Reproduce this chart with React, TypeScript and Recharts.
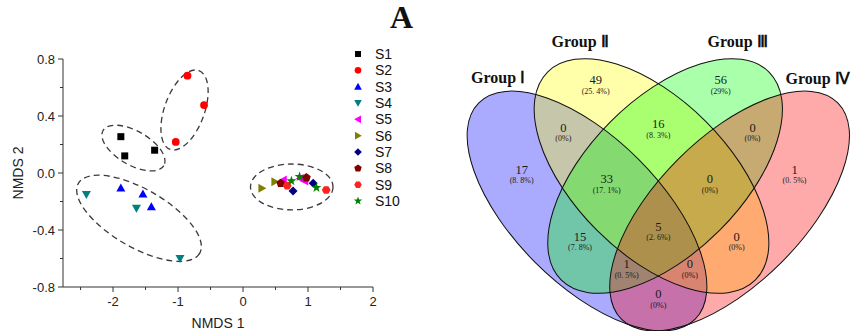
import React from "react";
import { Legend, ReferenceArea, Scatter, ScatterChart, XAxis, YAxis } from "recharts";

const SANS = "'Liberation Sans', Arial, Helvetica, sans-serif";
const SERIF = "'Liberation Serif', 'Times New Roman', serif";

// NMDS scores per sample, [NMDS 1, NMDS 2]
const S1 = [[-1.88, 0.255], [-1.82, 0.12], [-1.36, 0.16]];
const S2 = [[-0.855, 0.683], [-0.6, 0.477], [-1.035, 0.218]];
const S3 = [[-1.88, -0.105], [-1.54, -0.147], [-1.41, -0.236]];
const S4 = [[-2.41, -0.15], [-1.64, -0.248], [-0.97, -0.6]];
const S5 = [[0.62, -0.049], [0.95, -0.056], [0.88, -0.038]];
const S6 = [[0.29, -0.107], [0.49, -0.061]];
const S7 = [[0.77, -0.126], [1.08, -0.072]];
const S8 = [[0.58, -0.072], [0.975, -0.033]];
const S9 = [[0.68, -0.089], [1.28, -0.119]];
const S10 = [[0.745, -0.056], [0.87, -0.026], [1.13, -0.103]];

const SAMPLE_NAMES = ["S1", "S2", "S3", "S4", "S5", "S6", "S7", "S8", "S9", "S10"];
const SAMPLE_POINTS = [S1, S2, S3, S4, S5, S6, S7, S8, S9, S10];
const SAMPLE_COLORS = ["#000000", "#ff0000", "#0000ff", "#008080", "#ff00ff", "#808000", "#000080", "#800000", "#ff2020", "#008000"];
const SAMPLE_MARKERS = ["square", "circle", "up", "down", "left", "right", "diamond", "pentagon", "hexagon", "star"];

const X_TICKS = [-2.5, -2, -1.5, -1, -0.5, 0, 0.5, 1, 1.5, 2];
const Y_TICKS = [-0.8, -0.6, -0.4, -0.2, 0, 0.2, 0.4, 0.6, 0.8];

// dashed group outlines: centre, half axes (NMDS units), tilt in degrees
const RING_X = [-1.686, -0.9, -1.6, 0.75];
const RING_Y = [0.175, 0.442, -0.318, -0.098];
const RING_RX = [0.54, 0.646, 1.077, 0.635];
const RING_RY = [0.119, 0.14, 0.204, 0.161];
const RING_TILT = [30, -70, 30, 0];

// Venn diagram
const GROUPS = ["Group Ⅰ", "Group Ⅱ", "Group Ⅲ", "Group Ⅳ"];
const GROUP_FILLS = ["#0000ff", "#ffff00", "#00ff00", "#ff0000"];
const REGIONS = ["I", "II", "III", "IV", "I∩II", "II∩III", "III∩IV", "I∩II∩III", "II∩III∩IV", "I∩III", "II∩IV", "I∩III∩IV", "I∩II∩IV", "I∩II∩III∩IV", "I∩IV"];
const REGION_COUNTS = [17, 49, 56, 1, 0, 16, 0, 33, 0, 15, 0, 1, 0, 5, 0];

// layout of the Venn panel (panel units = px)
const SET_CX = [157, 221.5, 235.1, 299.6];
const SET_CY = [211, 176, 176, 211];
const SET_A = [153, 147, 147, 153];
const SET_B = [73, 77, 77, 73];
const SET_TILT = [45, 45, -45, -45];
const GROUP_POS = [[68, 77], [150, 41.7], [307.5, 41.7], [387.5, 78.3]];
const REGION_POS = [
  [91.7, 169.5], [165.7, 80], [290.7, 80], [364.5, 169.5],
  [133.3, 127.7], [228.3, 124], [322.5, 127.7],
  [176.7, 179.3], [279.8, 179.3],
  [150, 236.7], [306.7, 236.7],
  [196.7, 264], [259.8, 264],
  [228.3, 226.7], [228.3, 294],
];

const total = REGION_COUNTS.reduce((s, v) => s + v, 0);
const pctLabel = (n: number) => {
  const p = Math.round((n / total) * 1000) / 10;
  const s = Number.isInteger(p) ? String(p) : p.toFixed(1).replace(".", ". ");
  return `(${s}%)`;
};

const regionData = REGIONS.map((name, i) => ({
  name,
  x: REGION_POS[i][0],
  y: REGION_POS[i][1],
  count: REGION_COUNTS[i],
  pct: pctLabel(REGION_COUNTS[i]),
}));
const groupData = GROUPS.map((name, i) => ({ name, x: GROUP_POS[i][0], y: GROUP_POS[i][1] }));

function polyPoints(cx: number, cy: number, n: number, r: number, start: number) {
  const pts: string[] = [];
  for (let i = 0; i < n; i++) {
    const a = start + (i * 2 * Math.PI) / n;
    pts.push(`${cx + r * Math.cos(a)},${cy + r * Math.sin(a)}`);
  }
  return pts.join(" ");
}

function starPoints(cx: number, cy: number, ro: number, ri: number) {
  const pts: string[] = [];
  for (let i = 0; i < 10; i++) {
    const r = i % 2 === 0 ? ro : ri;
    const a = -Math.PI / 2 + (i * Math.PI) / 5;
    pts.push(`${cx + r * Math.cos(a)},${cy + r * Math.sin(a)}`);
  }
  return pts.join(" ");
}

function Marker({ kind, cx, cy, color, k = 1 }: { kind: string; cx: number; cy: number; color: string; k?: number }) {
  const s = 4.5 * k;
  switch (kind) {
    case "square":
      return <rect x={cx - 3.5 * k} y={cy - 3.5 * k} width={7 * k} height={7 * k} fill={color} />;
    case "circle":
      return <circle cx={cx} cy={cy} r={3.9 * k} fill={color} />;
    case "up":
      return <polygon points={`${cx},${cy - s} ${cx + s},${cy + 3.5 * k} ${cx - s},${cy + 3.5 * k}`} fill={color} />;
    case "down":
      return <polygon points={`${cx},${cy + s} ${cx + s},${cy - 3.5 * k} ${cx - s},${cy - 3.5 * k}`} fill={color} />;
    case "left":
      return <polygon points={`${cx - s},${cy} ${cx + 3.5 * k},${cy - s} ${cx + 3.5 * k},${cy + s}`} fill={color} />;
    case "right":
      return <polygon points={`${cx + s},${cy} ${cx - 3.5 * k},${cy - s} ${cx - 3.5 * k},${cy + s}`} fill={color} />;
    case "diamond":
      return <polygon points={`${cx},${cy - s} ${cx + s},${cy} ${cx},${cy + s} ${cx - s},${cy}`} fill={color} />;
    case "pentagon":
      return <polygon points={polyPoints(cx, cy, 5, 4.6 * k, -Math.PI / 2)} fill={color} />;
    case "hexagon":
      return <polygon points={polyPoints(cx, cy, 6, 4.4 * k, 0)} fill={color} />;
    default:
      return <polygon points={starPoints(cx, cy, 5.2 * k, 2.1 * k)} fill={color} />;
  }
}

const XTick = (props: any) => {
  const { x, y, payload } = props;
  const v = payload.value;
  const major = Number.isInteger(v);
  return (
    <g>
      <line x1={x} y1={y} x2={x} y2={y + (major ? 5 : 3)} stroke="#333" />
      {major && (
        <text x={x} y={y + 18.5} textAnchor="middle" fontSize={13} fontFamily={SANS} fill="#222">
          {String(v)}
        </text>
      )}
    </g>
  );
};

const YTick = (props: any) => {
  const { x, y, payload } = props;
  const v = payload.value;
  const major = Math.round(v * 10) % 4 === 0;
  return (
    <g>
      <line x1={x - (major ? 5 : 3)} y1={y} x2={x} y2={y} stroke="#333" />
      {major && (
        <text x={x - 8} y={y + 4.5} textAnchor="end" fontSize={13} fontFamily={SANS} fill="#222">
          {v.toFixed(1)}
        </text>
      )}
    </g>
  );
};

const ringShape = (tilt: number, style: any) => (p: any) => {
  const w = Math.abs(p.width);
  const h = Math.abs(p.height);
  const cx = Math.min(p.x, p.x + p.width) + w / 2;
  const cy = Math.min(p.y, p.y + p.height) + h / 2;
  return <ellipse cx={cx} cy={cy} rx={w / 2} ry={h / 2} transform={`rotate(${tilt} ${cx} ${cy})`} {...style} />;
};

const SampleLegend = () => (
  <svg width={60} height={170}>
    {SAMPLE_NAMES.map((name, i) => {
      const cy = 9 + i * 16.33;
      return (
        <g key={name}>
          <Marker kind={SAMPLE_MARKERS[i]} cx={8} cy={cy} color={SAMPLE_COLORS[i]} k={0.85} />
          <text x={25} y={cy + 5} fontSize={14} fontFamily={SANS} fill="#111">
            {name}
          </text>
        </g>
      );
    })}
  </svg>
);

const RegionLabel = (props: any) => {
  const { cx, cy, payload } = props;
  return (
    <g>
      <text x={cx} y={cy + 4} textAnchor="middle" fontSize={12.5} fontFamily={SERIF} fill="#1a1a1a">
        {payload.count}
      </text>
      <text x={cx} y={cy + 13.5} textAnchor="middle" fontSize={8} fontFamily={SERIF} fill="#1a1a1a">
        {payload.pct}
      </text>
    </g>
  );
};

const GroupTitle = (props: any) => {
  const { cx, cy, payload } = props;
  return (
    <text x={cx} y={cy + 5.5} textAnchor="middle" fontSize={16} fontWeight="bold" fontFamily={SERIF} fill="#111">
      {payload.name}
    </text>
  );
};

export default function App() {
  return (
    <div style={{ position: "absolute", left: 0, top: 0, width: 851, height: 331, background: "#fff", overflow: "hidden" }}>
      <div style={{ position: "absolute", left: 0, top: 0 }}>
        <ScatterChart width={420} height={331} margin={{ top: 59, right: 47, bottom: 0, left: 0 }}>
          <XAxis
            type="number"
            dataKey="x"
            domain={[-2.77, 2]}
            ticks={X_TICKS}
            interval={0}
            tick={<XTick />}
            tickLine={false}
            tickSize={0}
            tickMargin={0}
            axisLine={{ stroke: "#333" }}
            height={44}
            allowDataOverflow
            label={{
              content: ({ viewBox }: any) => (
                <text x={viewBox.x + viewBox.width / 2} y={viewBox.y + 41} textAnchor="middle" fontSize={14} fontFamily={SANS} fill="#222">
                  NMDS 1
                </text>
              ),
            }}
          />
          <YAxis
            type="number"
            dataKey="y"
            domain={[-0.8, 0.8]}
            ticks={Y_TICKS}
            interval={0}
            tick={<YTick />}
            tickLine={false}
            tickSize={0}
            tickMargin={0}
            axisLine={{ stroke: "#333" }}
            width={63}
            allowDataOverflow
            label={{
              content: ({ viewBox }: any) => {
                const cx = viewBox.x + 18;
                const cy = viewBox.y + viewBox.height / 2;
                return (
                  <text x={cx} y={cy} transform={`rotate(-90 ${cx} ${cy})`} textAnchor="middle" dominantBaseline="central" fontSize={14} fontFamily={SANS} fill="#222">
                    NMDS 2
                  </text>
                );
              },
            }}
          />
          {RING_X.map((cx, i) => (
            <ReferenceArea
              key={`ring-${i}`}
              x1={cx - RING_RX[i]}
              x2={cx + RING_RX[i]}
              y1={RING_Y[i] - RING_RY[i]}
              y2={RING_Y[i] + RING_RY[i]}
              ifOverflow="visible"
              shape={ringShape(RING_TILT[i], { fill: "none", stroke: "#3a3a3a", strokeWidth: 1.3, strokeDasharray: "6 4" })}
            />
          ))}
          {SAMPLE_NAMES.map((name, i) => (
            <Scatter
              key={name}
              name={name}
              data={SAMPLE_POINTS[i].map(([x, y]) => ({ x, y }))}
              fill={SAMPLE_COLORS[i]}
              isAnimationActive={false}
              shape={(p: any) => <Marker kind={SAMPLE_MARKERS[i]} cx={p.cx} cy={p.cy} color={SAMPLE_COLORS[i]} />}
            />
          ))}
          <Legend
            layout="vertical"
            align="center"
            verticalAlign="middle"
            wrapperStyle={{ position: "absolute", left: 350, top: 45, width: 60, height: 170 }}
            content={() => <SampleLegend />}
          />
        </ScatterChart>
      </div>

      <div
        style={{
          position: "absolute",
          left: 390,
          top: 1,
          fontFamily: SERIF,
          fontWeight: "bold",
          fontSize: 32,
          lineHeight: "32px",
          color: "#111",
        }}
      >
        A
      </div>

      <div style={{ position: "absolute", left: 430, top: 0 }}>
        <ScatterChart width={421} height={331} margin={{ top: 0, right: 0, bottom: 0, left: 0 }}>
          <XAxis type="number" dataKey="x" domain={[0, 421]} hide allowDataOverflow />
          <YAxis type="number" dataKey="y" domain={[0, 331]} reversed hide allowDataOverflow />
          {SET_CX.map((cx, i) => (
            <ReferenceArea
              key={`fill-${i}`}
              x1={cx - SET_A[i]}
              x2={cx + SET_A[i]}
              y1={SET_CY[i] - SET_B[i]}
              y2={SET_CY[i] + SET_B[i]}
              ifOverflow="visible"
              shape={ringShape(SET_TILT[i], { fill: GROUP_FILLS[i], fillOpacity: 0.333, stroke: "none" })}
            />
          ))}
          {SET_CX.map((cx, i) => (
            <ReferenceArea
              key={`edge-${i}`}
              x1={cx - SET_A[i]}
              x2={cx + SET_A[i]}
              y1={SET_CY[i] - SET_B[i]}
              y2={SET_CY[i] + SET_B[i]}
              ifOverflow="visible"
              shape={ringShape(SET_TILT[i], { fill: "none", stroke: "#111", strokeWidth: 1 })}
            />
          ))}
          <Scatter data={regionData} isAnimationActive={false} shape={<RegionLabel />} />
          <Scatter data={groupData} isAnimationActive={false} shape={<GroupTitle />} />
        </ScatterChart>
      </div>
    </div>
  );
}
